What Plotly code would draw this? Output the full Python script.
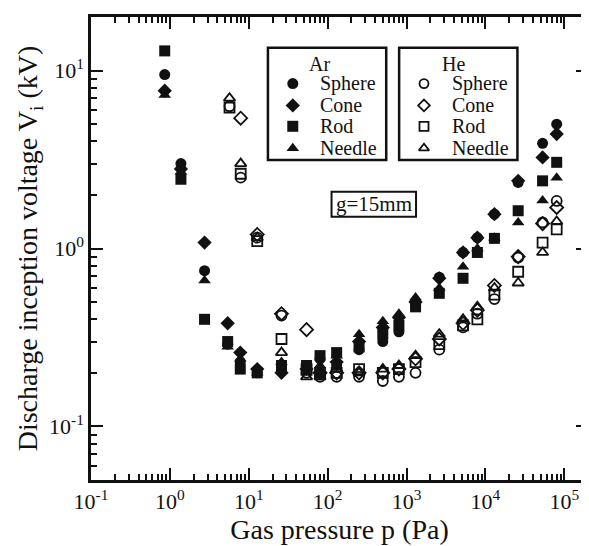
import plotly.graph_objects as go

# ---------------- data ----------------
p_ar = [0.86, 1.38, 2.75, 5.4, 7.8, 12.8, 26, 54, 80, 130, 250, 500, 800,
        1300, 2600, 5200, 7900, 13000, 26000, 53000, 80000]
ar_sphere = [9.5, 3.0, 0.75, 0.29, 0.23, 0.20, 0.21, 0.22, 0.24, 0.22, 0.27, 0.30, 0.34,
             0.48, 0.69, 0.95, 1.15, 1.56, 2.35, 3.9, 5.0]
ar_cone = [7.7, 2.8, 1.08, 0.38, 0.26, 0.21, 0.20, 0.21, 0.20, 0.23, 0.30, 0.36, 0.41,
           0.50, 0.68, 0.95, 1.15, 1.56, 2.4, 3.25, 4.4]
ar_rod = [12.9, 2.45, 0.40, 0.30, 0.21, 0.20, 0.22, 0.22, 0.25, 0.26, 0.28, 0.33, 0.37,
          0.47, 0.56, 0.68, 0.95, 1.14, 1.63, 2.4, 3.05]
ar_needle = [7.3, 2.7, 0.66, 0.28, 0.24, 0.20, 0.23, 0.20, 0.22, 0.25, 0.33, 0.39, 0.43,
             0.53, 0.60, 0.79, 1.0, 1.15, 1.4, 1.86, 2.5]

p_he = [5.7, 7.9, 12.8, 26, 54, 80, 130, 250, 500, 800, 1300, 2600, 5200,
        7900, 13000, 26000, 53000, 80000]
he_sphere = [6.3, 2.5, 1.15, 0.42, 0.20, 0.19, 0.19, 0.19, 0.18, 0.19, 0.20, 0.27, 0.36,
             0.43, 0.52, 0.89, 1.40, 1.85]
he_cone = [None, 5.4, 1.2, 0.43, 0.35, 0.20, 0.20, 0.20, 0.20, 0.21, 0.24, 0.31, 0.38,
           0.45, 0.62, 0.90, 1.38, 1.70]
he_rod = [6.2, 2.63, 1.1, 0.31, 0.21, 0.20, 0.20, 0.21, 0.20, 0.21, 0.23, 0.29, 0.37,
          0.40, 0.55, 0.74, 1.08, 1.28]
he_needle = [7.0, 3.0, 1.15, 0.26, 0.19, 0.19, 0.21, 0.20, 0.21, 0.22, 0.25, 0.33, 0.40,
             0.47, 0.60, 0.64, 0.95, 1.42]

x_ticks = [0.1, 1, 10, 100, 1e3, 1e4, 1e5]
x_ticktext = ["10<sup>-1</sup>", "10<sup>0</sup>", "10<sup>1</sup>", "10<sup>2</sup>",
              "10<sup>3</sup>", "10<sup>4</sup>", "10<sup>5</sup>"]
y_ticks = [0.1, 1, 10]
y_ticktext = ["10<sup>-1</sup>", "10<sup>0</sup>", "10<sup>1</sup>"]

shapes_names = ["Sphere", "Cone", "Rod", "Needle"]
ar_symbols = ["circle", "diamond", "square", "triangle-up"]
he_symbols = ["circle-open", "diamond-open", "square-open", "triangle-up-open"]

# ---------------- figure ----------------
W, H = 589, 546
L, R, T, B = 83, 6, 6, 74
FONT = "Liberation Serif, Times New Roman, serif"
INK = "#111111"

fig = go.Figure()

for name, ys, sym in zip(shapes_names, [ar_sphere, ar_cone, ar_rod, ar_needle], ar_symbols):
    fig.add_trace(go.Scatter(x=p_ar, y=ys, mode="markers", name="Ar " + name,
                             marker=dict(symbol=sym, size=11, color=INK,
                                         line=dict(width=0)),
                             showlegend=False))
for name, ys, sym in zip(shapes_names, [he_sphere, he_cone, he_rod, he_needle], he_symbols):
    fig.add_trace(go.Scatter(x=p_he, y=ys, mode="markers", name="He " + name,
                             marker=dict(symbol=sym, size=10, color=INK,
                                         line=dict(width=1.8, color=INK)),
                             showlegend=False))

# helpers: pixel -> paper fraction
def fx(px):
    return (px - L) / (W - L - R)

def fy(py):
    return 1 - (py - T) / (H - T - B)

# legend boxes drawn on an overlay axis spanning the plot area
rows_y = [73, 95, 116, 138]
for gas, sx, tx, syms, title_x in [("Ar", 286, 311, ar_symbols, 313),
                                    ("He", 418, 444, he_symbols, 448)]:
    fig.add_trace(go.Scatter(
        x=[fx(sx)] * 4, y=[fy(v) for v in rows_y], mode="markers",
        xaxis="x2", yaxis="y2", showlegend=False, hoverinfo="skip",
        marker=dict(symbol=syms, size=11 if gas == "Ar" else 9, color=INK,
                    line=dict(width=1.8 if gas == "He" else 0, color=INK))))
    fig.add_annotation(x=fx(title_x), y=fy(53), xref="paper", yref="paper",
                       text=gas, showarrow=False, xanchor="center", yanchor="middle",
                       font=dict(family=FONT, size=20, color=INK))
    for nm, ry in zip(shapes_names, rows_y):
        fig.add_annotation(x=fx(tx), y=fy(ry), xref="paper", yref="paper",
                           text=nm, showarrow=False, xanchor="left", yanchor="middle",
                           font=dict(family=FONT, size=20, color=INK))

for x0, x1 in [(261, 380), (393, 512)]:
    fig.add_shape(type="rect", xref="paper", yref="paper",
                  x0=fx(x0), x1=fx(x1), y0=fy(150), y1=fy(37),
                  line=dict(color=INK, width=2.5), fillcolor="rgba(0,0,0,0)")

fig.add_shape(type="rect", xref="paper", yref="paper",
              x0=fx(325), x1=fx(410), y0=fy(207), y1=fy(182),
              line=dict(color=INK, width=2), fillcolor="rgba(0,0,0,0)")
fig.add_annotation(x=fx(367.5), y=fy(194.5), xref="paper", yref="paper",
                   text="g=15mm", showarrow=False, xanchor="center", yanchor="middle",
                   font=dict(family=FONT, size=21, color=INK))

x_minor = [m * 10 ** k for k in range(-1, 6) for m in range(2, 10)]
y_minor = [m * 10 ** k for k in range(-2, 2) for m in range(2, 10)]

axis_common = dict(type="log", showline=True, linewidth=2.5, linecolor=INK,
                   mirror="allticks", ticks="inside", ticklen=12, tickwidth=1.5,
                   tickcolor=INK, showgrid=False, zeroline=False,
                   tickfont=dict(family=FONT, size=22, color=INK))

fig.update_layout(
    width=W, height=H,
    margin=dict(l=L, r=R, t=T, b=B),
    paper_bgcolor="white", plot_bgcolor="white",
    font=dict(family=FONT, color=INK),
    xaxis=dict(range=[-1, 5.3], tickmode="array", tickvals=x_ticks, ticktext=x_ticktext,
               minor=dict(tickmode="array", tickvals=x_minor, ticks="inside",
                          ticklen=6, tickwidth=1.5, tickcolor=INK),
               title=dict(text="Gas pressure p (Pa)", standoff=6,
                          font=dict(family=FONT, size=28, color=INK)),
               **axis_common),
    yaxis=dict(range=[-1.30103, 1.30103], tickmode="array", tickvals=y_ticks,
               ticktext=y_ticktext,
               minor=dict(tickmode="array", tickvals=y_minor, ticks="inside",
                          ticklen=6, tickwidth=1.5, tickcolor=INK),
               title=dict(text="Discharge inception voltage V<sub>i</sub> (kV)", standoff=4,
                          font=dict(family=FONT, size=28, color=INK)),
               **axis_common),
    xaxis2=dict(overlaying="x", range=[0, 1], visible=False, fixedrange=True),
    yaxis2=dict(overlaying="y", range=[0, 1], visible=False, fixedrange=True),
    showlegend=False,
)

fig.write_html("out.html")
